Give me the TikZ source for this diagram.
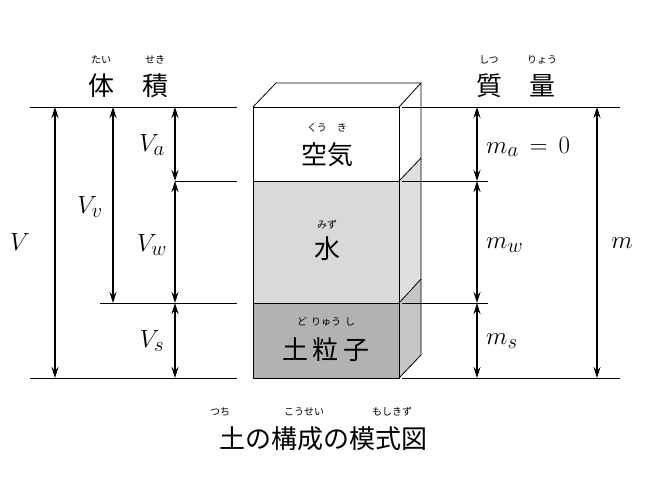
\documentclass[tikz,border=0pt]{standalone}
\usepackage{fontspec}
\newfontfamily\cjk{Noto Sans CJK JP}
\usetikzlibrary{arrows.meta}
\begin{document}
\begin{tikzpicture}[x=1pt,y=-1pt,
  dim/.style={{Stealth[length=11pt,width=7pt]}-{Stealth[length=11pt,width=7pt]},line width=1.1pt},
  ln/.style={line width=0.8pt},
  big/.style={font=\cjk\fontsize{26}{26}\selectfont,inner sep=0},
  rb/.style={font=\cjk\fontsize{10}{10}\selectfont,inner sep=0},
  mt/.style={font=\fontsize{28}{28}\selectfont,inner sep=0}]
\useasboundingbox (0,0) rectangle (645,480);
% block
\coordinate (A) at (253,107); \coordinate (B) at (399,107);
\coordinate (C) at (253,378); \coordinate (D) at (399,378);
\fill[gray!30] (253,181) rectangle (399,303);
\fill[gray!60] (253,303) rectangle (399,378);
\fill[gray!25] (399,181) -- (421,158) -- (421,279) -- (399,303) -- cycle;
\fill[gray!45] (399,303) -- (421,279) -- (421,355) -- (399,378) -- cycle;
\draw[ln] (A) rectangle (D);
\draw[ln] (253,181) -- (399,181) (253,303) -- (399,303);
\draw[ln] (A) -- (276,83) -- (421,83) -- (B) (421,83) -- (421,355) -- (D);
\draw[ln] (399,181) -- (421,158) (399,303) -- (421,279);
% guide lines
\draw[ln] (30,107) -- (237,107) (175,181) -- (237,181) (100,303) -- (237,303) (30,378) -- (237,378);
\draw[ln] (402,107) -- (620,107) (402,181) -- (488,181) (402,303) -- (488,303) (402,378) -- (620,378);
% dimension arrows
\coordinate (t1) at (55,107); \coordinate (b1) at (55,378);
\draw[dim] (t1) -- (b1);
\coordinate (t2) at (113,107); \coordinate (b2) at (113,303);
\draw[dim] (t2) -- (b2);
\coordinate (a0) at (175,107); \coordinate (a1) at (175,181); \coordinate (a2) at (175,303); \coordinate (a3) at (175,378);
\draw[dim] (a0) -- (a1); \draw[dim] (a1) -- (a2); \draw[dim] (a2) -- (a3);
\coordinate (r0) at (477,107); \coordinate (r1) at (477,181); \coordinate (r2) at (477,303); \coordinate (r3) at (477,378);
\draw[dim] (r0) -- (r1); \draw[dim] (r1) -- (r2); \draw[dim] (r2) -- (r3);
\coordinate (m0) at (597,107); \coordinate (m1) at (597,378);
\draw[dim] (m0) -- (m1);
% math labels
\node[mt] (lV) at (20,242) {$V$};
\node[mt] (lVv) at (90,207) {$V_v$};
\node[mt] (lVa) at (152,145) {$V_a$};
\node[mt] (lVw) at (152,245) {$V_w$};
\node[mt] (lVs) at (152,341) {$V_s$};
\node[mt,anchor=west] (lma) at (486,147) {$m_a\,=\,0$};
\node[mt,anchor=west] (lmw) at (486,245) {$m_w$};
\node[mt,anchor=west] (lms) at (486,341) {$m_s$};
\node[mt] (lm) at (622,243) {$m$};
% block labels
\node[big] (k1) at (327,155) {空気};
\node[rb] (k1r) at (327,128) {くう\hspace{10pt}き};
\node[big] (k2) at (327,249) {水};
\node[rb] (k2r) at (327,225) {みず};
\node[big] (k3) at (326,350) {土\hspace{5pt}粒\hspace{5pt}子};
\node[rb] (k3r) at (326,322) {ど\hspace{4pt}りゅう\hspace{4pt}し};
% titles
\node[big] (t1l) at (101,86) {体};
\node[rb] at (101,60) {たい};
\node[big] (t2l) at (155,86) {積};
\node[rb] at (155,60) {せき};
\node[big] (t3l) at (489,86) {質};
\node[rb] at (489,60) {しつ};
\node[big] (t4l) at (542,86) {量};
\node[rb] at (542,60) {りょう};
\node[big] (ttl) at (323,439) {土の構成の模式図};
\node[rb] at (220,412) {つち};
\node[rb] at (304,412) {こうせい};
\node[rb] at (392,412) {もしきず};
\end{tikzpicture}
\end{document}
